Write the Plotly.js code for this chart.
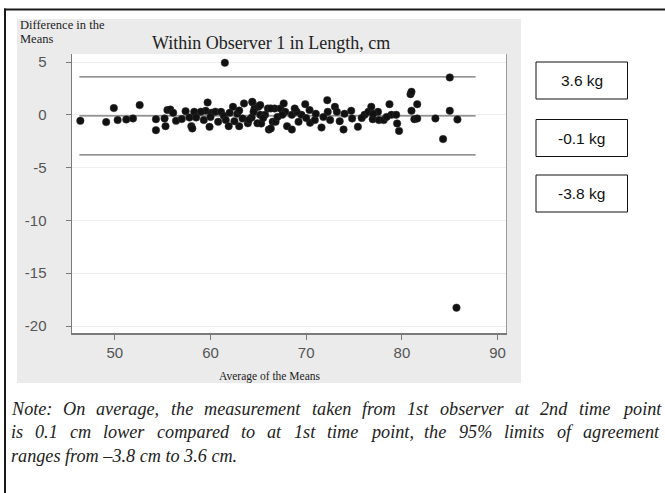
<!DOCTYPE html>
<html>
<head>
<meta charset="utf-8">
<script src="https://cdn.plot.ly/plotly-3.0.1.min.js"></script>
<style>
  html, body { margin: 0; padding: 0; background: #ffffff; }
  #chart { width: 665px; height: 493px; }
</style>
</head>
<body>
<div id="chart"></div>
<script>
// ---------------- data ----------------
const avgMeans = [
  46.4, 49.1, 49.9, 50.3, 51.2, 51.9, 52.6, 54.3, 54.3, 55.2,
  55.3, 55.5, 55.8, 56.1, 56.4, 57.4, 57.8, 58.0, 58.1, 58.3,
  58.5, 59.3, 59.5, 59.7, 59.9, 60.1, 60.5, 60.8, 61.1, 61.4,
  61.5, 61.6, 61.9, 62.0, 62.35, 63.0, 63.35, 63.5, 63.9, 64.3,
  64.4, 64.6, 64.9, 65.0, 65.2, 65.7, 66.0, 66.1, 66.5, 66.7,
  64.36, 64.5, 65.2, 65.3, 66.3, 66.3, 66.8, 67.3, 67.65, 67.8,
  68.0, 68.5, 68.5, 69.2, 69.5, 69.9, 70.35, 70.4, 70.9, 71.6,
  72.2, 72.25, 72.5, 73.0, 73.2, 73.9, 74.7, 74.8, 75.4, 76.1,
  76.5, 76.8, 76.95, 77.5, 77.6, 78.1, 78.7, 78.9, 79.4, 79.5,
  79.7, 80.9, 81.0, 81.0, 81.3, 81.6, 81.6, 83.5, 84.3, 85.0,
  85.0, 85.8, 85.7,
  60.0, 62.8, 63.0, 64.0, 65.5, 67.0, 67.5, 69.0, 70.0, 71.0,
  71.8, 74.0, 75.8, 77.0, 78.4, 59.0, 57.0, 62.5, 68.8, 73.5
];
const diffMeans = [
  -0.57, -0.69, 0.64, -0.5, -0.44, -0.34, 0.92, -0.41, -1.45, -0.34,
  -1.07, 0.45, 0.5, 0.19, -0.57, 0.35, -0.25, -1.07, -1.29, 0.28,
  -0.25, -0.5, 0.38, 1.17, -1.14, 0.19, 0.3, -0.66, 0.28, -0.1,
  4.93, -0.5, -1.07, 0.19, 0.76, -1.07, -0.35, 1.08, -0.8, -0.25,
  1.17, 0.6, -0.8, 0.76, 0.0, 0.0, 0.6, -1.4, -0.66, 0.6,
  1.23, 0.28, 0.92, -0.82, 0.61, -1.29, -0.66, 0.61, 1.08, 0.28,
  -1.07, -1.39, 0.0, -0.66, 0.0, 1.01, 0.45, -0.75, -0.5, -1.2,
  1.39, 0.28, -0.5, 0.76, 0.28, -1.39, 0.38, -0.35, -1.14, 0.0,
  0.28, 0.76, -0.41, 0.28, -0.5, -0.5, 1.01, 0.0, 0.0, -0.82,
  -1.52, 1.96, 2.18, 0.38, -0.41, 1.01, -0.35, -0.34, -2.3, 3.54,
  0.38, -0.44, -18.26,
  -0.2, 0.1, 0.4, -0.5, -0.3, -0.2, 0.0, 0.3, -0.3, 0.1,
  -0.2, 0.1, -0.3, 0.1, -0.2, 0.3, -0.4, -0.6, 0.6, -0.6
];
const lineX = [46.3, 87.7];
const upperLimit = 3.6;
const meanDiff = -0.1;
const lowerLimit = -3.8;
const xTicks = [50, 60, 70, 80, 90];
const yTicks = [5, 0, -5, -10, -15, -20];
const boxLabels = ["3.6 kg", "-0.1 kg", "-3.8 kg"];
const chartTitle = "Within Observer 1 in Length, cm";
const yTitleLines = ["Difference in the", "Means"];
const xTitle = "Average of the Means";
const noteLines = [
  "Note: On average, the measurement taken from 1st observer at 2nd time point",
  "is 0.1 cm lower compared to at 1st time point, the 95% limits of agreement",
  "ranges from \u20133.8 cm to 3.6 cm."
];

// ---------------- geometry helpers ----------------
const W = 665, H = 493;
const M = {l: 72, r: 158, t: 54, b: 160};
const PW = W - M.l - M.r, PH = H - M.t - M.b;
const px = x => (x - M.l) / PW;
const py = y => (H - M.b - y) / PH;

const shapes = [];
const annotations = [];

// grey panel then white plot area
shapes.push({type: 'rect', xref: 'paper', yref: 'paper', layer: 'below',
  x0: px(17), x1: px(521), y0: py(383), y1: py(19),
  fillcolor: '#ebebeb', line: {width: 0}});
shapes.push({type: 'rect', xref: 'paper', yref: 'paper', layer: 'below',
  x0: px(72), x1: px(507), y0: py(333), y1: py(54),
  fillcolor: '#ffffff', line: {width: 0}});
// right border of plot area
shapes.push({type: 'line', xref: 'paper', yref: 'paper', layer: 'above',
  x0: px(506.5), x1: px(506.5), y0: py(333), y1: py(54),
  line: {color: '#9a9a9a', width: 1}});
// outer frame (top and left)
shapes.push({type: 'line', xref: 'paper', yref: 'paper', layer: 'above',
  x0: px(4), x1: px(665), y0: py(9.5), y1: py(9.5),
  line: {color: '#1a1a1a', width: 2}});
shapes.push({type: 'line', xref: 'paper', yref: 'paper', layer: 'above',
  x0: px(5), x1: px(5), y0: py(8.5), y1: py(493),
  line: {color: '#1a1a1a', width: 2}});

// label boxes
const boxTops = [62, 119.5, 175];
const boxH = 37;
boxLabels.forEach((t, i) => {
  shapes.push({type: 'rect', xref: 'paper', yref: 'paper', layer: 'above',
    x0: px(536), x1: px(627.5), y0: py(boxTops[i] + boxH), y1: py(boxTops[i]),
    fillcolor: '#ffffff', line: {color: '#111111', width: 1}});
  annotations.push({xref: 'paper', yref: 'paper', x: px(581.5), y: py(boxTops[i] + boxH / 2),
    text: t, showarrow: false, xanchor: 'center', yanchor: 'middle',
    font: {family: 'Liberation Sans, Arial, sans-serif', size: 15.5, color: '#111'}});
});

// titles
annotations.push({xref: 'paper', yref: 'paper', x: px(271), y: py(42.5), text: chartTitle,
  showarrow: false, xanchor: 'center', yanchor: 'middle',
  font: {family: 'Liberation Serif, Times New Roman, serif', size: 18, color: '#222'}});
yTitleLines.forEach((t, i) => {
  annotations.push({xref: 'paper', yref: 'paper', x: px(19), y: py(25 + i * 14.5), text: t,
    showarrow: false, xanchor: 'left', yanchor: 'middle', borderpad: 0,
    font: {family: 'Liberation Serif, Times New Roman, serif', size: 12.5, color: '#222'}});
});
annotations.push({xref: 'paper', yref: 'paper', x: px(270), y: py(376), text: xTitle,
  showarrow: false, xanchor: 'center', yanchor: 'middle',
  font: {family: 'Liberation Serif, Times New Roman, serif', size: 11.5, color: '#222'}});

// note text, justified lines
const noteSize = 18.2;
const noteFont = {family: 'Liberation Serif', size: noteSize, color: '#222'};
const cv = document.createElement('canvas').getContext('2d');
cv.font = "italic " + noteSize + "px 'Liberation Serif'";
const noteY = [408.5, 432, 455.5];
const noteL = 10, noteR = 658;
noteLines.forEach((line, i) => {
  const justify = i < noteLines.length - 1;
  if (!justify) {
    annotations.push({xref: 'paper', yref: 'paper', x: px(noteL), y: py(noteY[i]),
      text: '<i>' + line + '</i>', showarrow: false, xanchor: 'left', yanchor: 'middle',
      borderpad: 0, font: noteFont});
    return;
  }
  const words = line.split(' ');
  const widths = words.map(w => cv.measureText(w).width);
  const total = widths.reduce((a, b) => a + b, 0);
  const gap = Math.max(3, (noteR - noteL - total) / (words.length - 1));
  let x = noteL;
  words.forEach((w, k) => {
    annotations.push({xref: 'paper', yref: 'paper', x: px(x), y: py(noteY[i]),
      text: '<i>' + w + '</i>', showarrow: false, xanchor: 'left', yanchor: 'middle',
      borderpad: 0, font: noteFont});
    x += widths[k] + gap;
  });
});

// ---------------- traces ----------------
const refLine = v => ({
  x: lineX, y: lineX.map(() => v), mode: 'lines', type: 'scatter',
  line: {color: '#6e6e6e', width: 1.3}, hoverinfo: 'skip', showlegend: false
});
const traces = [
  refLine(upperLimit), refLine(meanDiff), refLine(lowerLimit),
  {x: avgMeans, y: diffMeans, mode: 'markers', type: 'scatter', showlegend: false,
   marker: {size: 7.5, color: '#111111', line: {color: '#333333', width: 0.5}}}
];

const layout = {
  width: W, height: H,
  margin: M,
  paper_bgcolor: '#ffffff',
  plot_bgcolor: 'rgba(0,0,0,0)',
  showlegend: false,
  xaxis: {
    range: [45.53, 90.98], tickvals: xTicks, ticktext: xTicks.map(String),
    showgrid: false, zeroline: false, showline: true, linecolor: '#7a7a7a', linewidth: 1.5,
    ticks: 'outside', ticklen: 5, tickcolor: '#7a7a7a', tickwidth: 1,
    tickfont: {family: 'Liberation Sans, Arial, sans-serif', size: 15, color: '#555'}
  },
  yaxis: {
    range: [-20.66, 5.76], tickvals: yTicks, ticktext: yTicks.map(String),
    showgrid: true, gridcolor: '#eeeeee', gridwidth: 1, zeroline: false,
    showline: true, linecolor: '#7a7a7a', linewidth: 1.5,
    ticks: 'outside', ticklen: 5, tickcolor: '#7a7a7a', tickwidth: 1,
    ticklabelstandoff: 16,
    tickfont: {family: 'Liberation Sans, Arial, sans-serif', size: 15, color: '#555'}
  },
  shapes: shapes,
  annotations: annotations
};

Plotly.newPlot('chart', traces, layout, {displayModeBar: false, staticPlot: true});
</script>
</body>
</html>
